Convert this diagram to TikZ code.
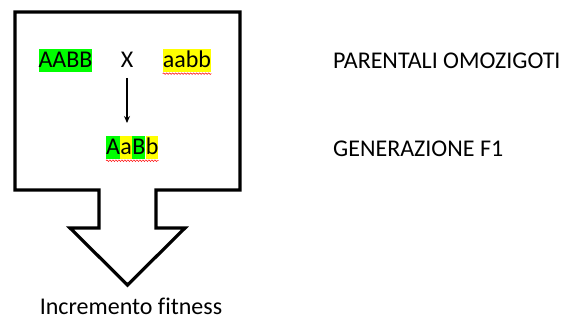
\documentclass[tikz,border=0pt]{standalone}
\usepackage{fontspec}
\setmainfont[Ligatures=NoCommon]{Carlito}
\usetikzlibrary{decorations.pathmorphing,arrows.meta}
\definecolor{hlgreen}{HTML}{00FF00}
\definecolor{hlyellow}{HTML}{FFFF00}
\tikzset{
  txt/.style={font=\fontsize{24}{28}\selectfont, inner sep=0pt},
  hl/.style={txt, text height=19pt, text depth=4pt, inner xsep=0pt, fill=#1},
  spell/.style={draw=red, line width=0.5pt, decorate,
    decoration={snake, amplitude=0.8pt, segment length=3pt}},
}
\begin{document}
\begin{tikzpicture}[x=1pt,y=-1pt]
  \useasboundingbox (0,0) rectangle (573,320);
  % block arrow outline
  \draw[line width=3.2pt, line join=miter]
    (15,12) -- (240,12) -- (240,190) -- (156,190) -- (156,228) -- (185,228)
    -- (127.5,285) -- (70,228) -- (99,228) -- (99,190) -- (15,190) -- cycle;
  % parental cross
  \node[hl=hlgreen, anchor=base] (p1) at (65.5,68) {AABB};
  \node[txt, anchor=base] (x) at (127,68) {X};
  \node[hl=hlyellow, anchor=base] (p2) at (187,68) {aabb};
  \draw[spell] ([yshift=-1.5pt]p2.south west) -- ([yshift=-1.5pt]p2.south east);
  % F1 genotype
  \node[hl=hlgreen, anchor=base west] (g1) at (106,155) {A};
  \node[hl=hlyellow, anchor=base west] (g2) at (g1.base east) {a};
  \node[hl=hlgreen, anchor=base west] (g3) at (g2.base east) {B};
  \node[hl=hlyellow, anchor=base west] (g4) at (g3.base east) {b};
  \draw[spell] ([yshift=-1.5pt]g1.south west) -- ([yshift=-1.5pt]g4.south east);
  \coordinate (crossend) at (127,78);
  \coordinate (f1top) at (127,123);
  \draw[-{Stealth[length=7pt,width=6pt]}, line width=1.2pt] (crossend) -- (f1top);
  % labels
  \node[txt, anchor=base west] (lp) at (333,69) {PARENTALI OMOZIGOTI};
  \node[txt, anchor=base west] (lf) at (333,157) {GENERAZIONE F1};
  \node[txt, anchor=base] (inc) at (131,315) {Incremento fitness};
\end{tikzpicture}
\end{document}
